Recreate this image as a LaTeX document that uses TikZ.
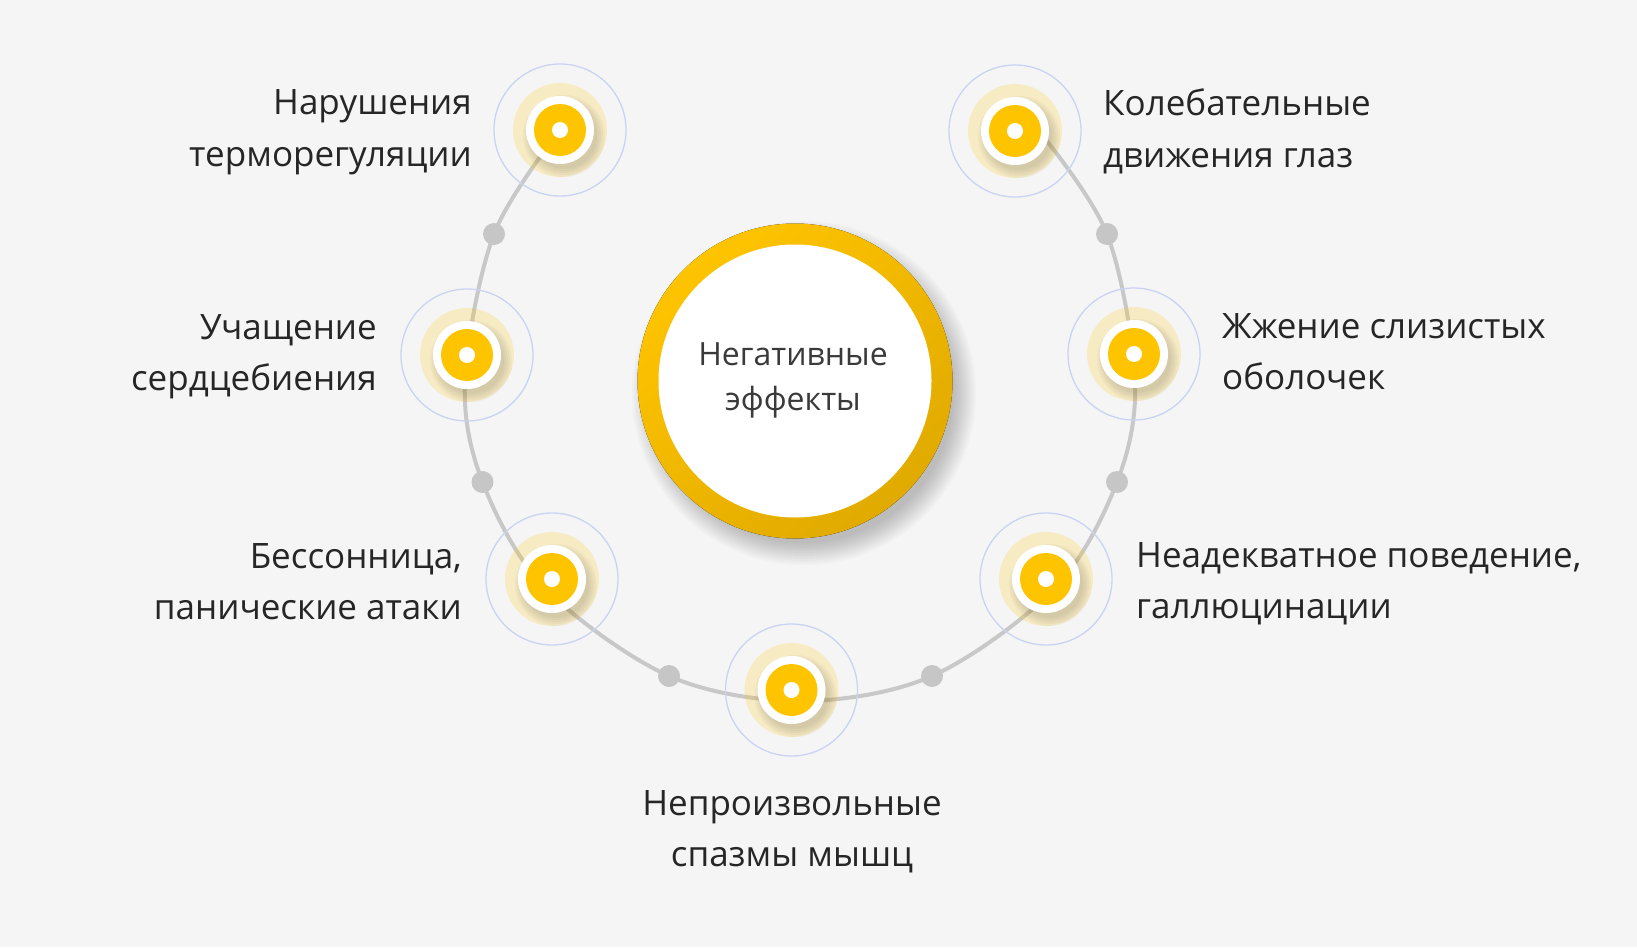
\documentclass[tikz,border=0pt]{standalone}
\usepackage{fontspec}
\setmainfont{Open Sans}
\definecolor{bg}{HTML}{F5F5F5}
\definecolor{ylw}{HTML}{FFC400}
\definecolor{gold}{HTML}{E0AA00}
\definecolor{arcgray}{HTML}{C8C8C8}
\definecolor{dotgray}{HTML}{C6C6C6}
\definecolor{ringblue}{HTML}{C9D3F2}
\definecolor{txt}{HTML}{262626}
\definecolor{ctxt}{HTML}{3A3A3A}
\tikzset{
  lbl/.style={font=\fontsize{35}{51.5}\selectfont, text=txt, inner sep=0pt},
  ctextstyle/.style={font=\fontsize{32}{45}\selectfont, text=ctxt, inner sep=0pt, align=center},
  arcline/.style={draw=arcgray, line width=4pt},
  gdot/.style={fill=dotgray},
}
\begin{document}
\begin{tikzpicture}[x=1pt,y=-1pt]
\fill[bg] (0,0) rectangle (1637,947);
\useasboundingbox (0,0) rectangle (1637,947);

% centre
\coordinate (c) at (795,381);
\foreach \r in {150,152,...,172}
  \fill[black, opacity=0.018] ([shift={(9,12)}]c) circle (\r);
\fill[top color=ylw, middle color=ylw, bottom color=gold, shading angle=40] (c) circle (157.5);
\fill[white] (c) circle (136.5);
\node[ctextstyle, anchor=base] (ct) at (793,410) {Негативные\\эффекты};

% markers and path points
\coordinate (m1) at (560,130);
\coordinate (m2) at (467,355);
\coordinate (m3) at (552,579);
\coordinate (m4) at (791.5,690);
\coordinate (m5) at (1046,579);
\coordinate (m6) at (1134,354);
\coordinate (m7) at (1015,131);
\coordinate (d1) at (494,234);
\coordinate (d2) at (482.5,482);
\coordinate (d3) at (669,676);
\coordinate (d4) at (932,676);
\coordinate (d5) at (1117,482);
\coordinate (d6) at (1107,234);
\coordinate (p2) at (465,380);
\coordinate (p3) at (545,588);
\coordinate (pb) at (800,701);
\coordinate (p5) at (1055,588);
\coordinate (p6) at (1135,380);
\coordinate (pe) at (1039,131);

\draw[arcline] plot[smooth, tension=0.55] coordinates {(m1) (d1) (p2) (d2) (p3) (d3) (pb) (d4) (p5) (d5) (p6) (d6) (pe)};
\foreach \d in {d1,d2,d3,d4,d5,d6}
  \fill[gdot] (\d) circle (11);

\foreach \m in {m1,m2,m3,m4,m5,m6,m7}{
  \draw[ringblue, line width=1.3pt] (\m) circle (66);
  \fill[ylw, opacity=0.2] (\m) circle (47);
  \foreach \r in {33,35,37,39,41}
    \fill[black, opacity=0.028] ([shift={(4,6)}]\m) circle (\r);
  \fill[white] (\m) circle (34);
  \fill[ylw] (\m) circle (26);
  \fill[white] (\m) circle (8);
}

% labels
\node[lbl, anchor=base east, align=right] (l1) at (472,166.5) {Нарушения\\терморегуляции};
\node[lbl, anchor=base east, align=right] (l2) at (377,390.5) {Учащение\\сердцебиения};
\node[lbl, anchor=base east, align=right] (l3) at (462,619.5) {Бессонница,\\панические атаки};
\node[lbl, anchor=base, align=center] (l4) at (792,866.5) {Непроизвольные\\спазмы мышц};
\node[lbl, anchor=base west, align=left] (l5) at (1136,618.5) {Неадекватное поведение,\\галлюцинации};
\node[lbl, anchor=base west, align=left] (l6) at (1222,389.5) {Жжение слизистых\\оболочек};
\node[lbl, anchor=base west, align=left] (l7) at (1103,167.5) {Колебательные\\движения глаз};
\end{tikzpicture}
\end{document}
